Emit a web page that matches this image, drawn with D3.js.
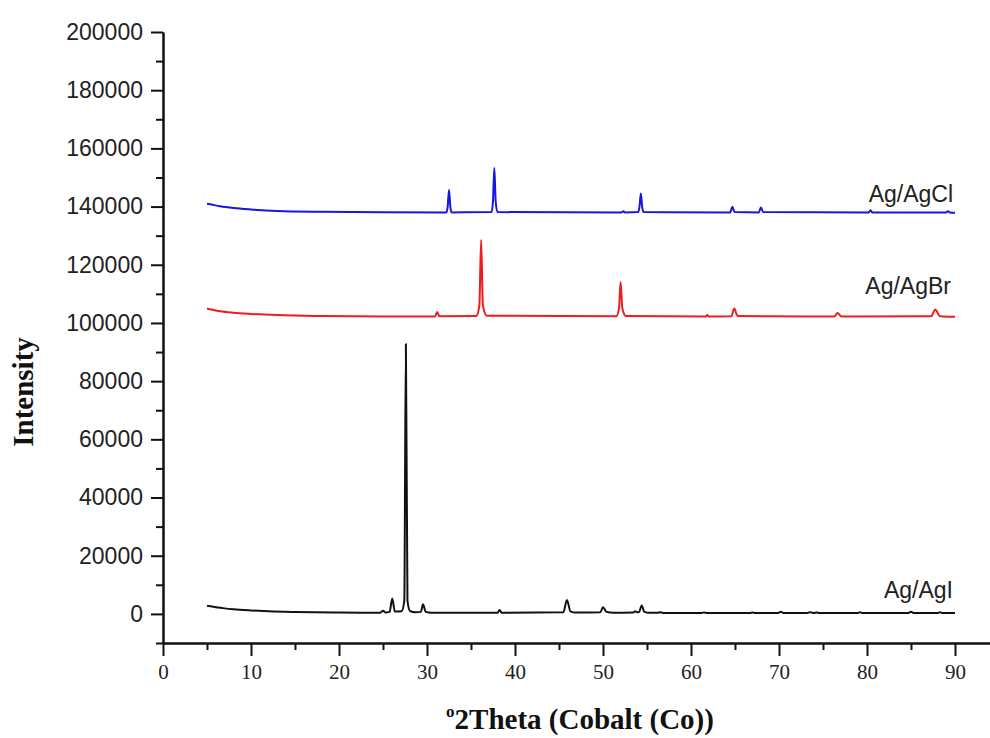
<!DOCTYPE html>
<html>
<head>
<meta charset="utf-8">
<script src="https://cdn.jsdelivr.net/npm/d3@7"></script>
<style>
  body { margin: 0; background: #fff; }
  .ytick text { font-family: "Liberation Sans", Arial, sans-serif; font-size: 23px; fill: #222; }
  .xtick text { font-family: "Liberation Serif", "Times New Roman", serif; font-size: 21px; fill: #222; }
  .axis path, .axis line { stroke: #111; stroke-width: 2; }
  .label { font-family: "Liberation Sans", Arial, sans-serif; font-size: 23px; fill: #222; }
  .title { font-family: "Liberation Serif", "Times New Roman", serif; font-size: 29px; font-weight: bold; fill: #111; }
</style>
</head>
<body>
<svg id="chart" width="990" height="738"></svg>
<script>
// Ag/AgI pattern, [2theta, counts]
var agiData = [
    [5, 2800], [6, 2300], [7, 1900], [8, 1600], [10, 1200], [12, 900], [15, 650],
    [20, 450], [24.7, 420], [25.0, 1100], [25.3, 450], [25.75, 700], [26.05, 5300],
    [26.35, 800], [27.1, 900], [27.42, 4500], [27.6, 92800], [27.78, 4500], [28.1, 900],
    [28.7, 550], [29.3, 700], [29.55, 3300], [29.85, 700], [30.5, 400], [38.0, 380],
    [38.25, 1300], [38.5, 380], [45.5, 550], [45.9, 4800], [46.3, 900], [46.9, 450],
    [49.7, 550], [50.0, 2300], [50.4, 700], [51.2, 420], [53.45, 500], [53.65, 900],
    [53.85, 550], [54.1, 650], [54.4, 2900], [54.7, 700], [55.3, 380], [56.2, 370],
    [56.5, 600], [56.8, 340], [61.2, 330], [61.5, 520], [61.8, 320], [66.7, 320],
    [67.0, 480], [67.3, 320], [69.9, 320], [70.2, 700], [70.5, 320], [73.2, 320],
    [73.5, 550], [73.9, 350], [74.3, 500], [74.6, 320], [78.9, 320], [79.2, 600],
    [79.5, 320], [84.7, 320], [85.0, 700], [85.3, 320], [88.0, 310], [88.3, 600],
    [88.6, 310], [90, 300]
];

// Ag/AgBr pattern
var agbrData = [
    [5, 105000], [5.5, 104600], [6.5, 104000], [8, 103500], [10, 103100], [13, 102700],
    [18, 102400], [25, 102250], [30.9, 102200], [31.15, 103800], [31.4, 102300],
    [35.6, 102400], [35.95, 106000], [36.15, 128500], [36.35, 106000], [36.8, 102500],
    [51.5, 102300], [51.82, 105000], [52.0, 114100], [52.2, 105000], [52.6, 102400],
    [61.7, 102200], [61.85, 102700], [62.0, 102200], [64.6, 102300], [64.9, 105000],
    [65.3, 102400], [76.3, 102200], [76.65, 103400], [77.1, 102200], [87.3, 102300],
    [87.75, 104600], [88.3, 102300], [90, 102100]
];

// Ag/AgCl pattern
var agclData = [
    [5, 141000], [5.5, 140700], [6.5, 140100], [8, 139500], [10, 139000], [13, 138500],
    [18, 138200], [25, 138050], [32.2, 138000], [32.35, 140000], [32.5, 145700],
    [32.65, 140000], [32.8, 138000], [37.35, 138100], [37.5, 142000], [37.65, 153300],
    [37.8, 142000], [38.0, 138100], [52.1, 138000], [52.3, 138400], [52.5, 138000],
    [54.0, 138100], [54.15, 140000], [54.3, 144500], [54.45, 140000], [54.6, 138100],
    [64.45, 138000], [64.7, 139900], [64.95, 138100], [67.7, 138000], [67.95, 139700],
    [68.2, 138100], [80.2, 138000], [80.4, 138700], [80.6, 138000], [89.0, 138000],
    [89.2, 138400], [89.4, 138000], [90, 137900]
];

var seriesNames  = ['Ag/AgI', 'Ag/AgBr', 'Ag/AgCl'];
var seriesColors = ['#111111', '#ee1c1c', '#1515e6'];
var labelPos     = [[953, 598], [951, 294], [953, 202]];

var xMajor = [0, 10, 20, 30, 40, 50, 60, 70, 80, 90];
var xMinor = [5, 15, 25, 35, 45, 55, 65, 75, 85];
var yMajor = [0, 20000, 40000, 60000, 80000, 100000, 120000, 140000, 160000, 180000, 200000];
var yMinor = [-10000, 10000, 30000, 50000, 70000, 90000, 110000, 130000, 150000, 170000, 190000];

var svg = d3.select('#chart');

var x = d3.scaleLinear().domain([0, 95]).range([163, 999]);
var y = d3.scaleLinear().domain([-10000, 200000]).range([643, 32]);

// minor ticks first, then major axes on top
svg.append('g')
    .attr('class', 'axis')
    .attr('transform', 'translate(0,643)')
    .call(d3.axisBottom(x).tickValues(xMinor).tickFormat('').tickSizeInner(7).tickSizeOuter(0));
svg.append('g')
    .attr('class', 'axis xtick')
    .attr('transform', 'translate(0,643)')
    .call(d3.axisBottom(x).tickValues(xMajor).tickFormat(d3.format('d')).tickSizeInner(13).tickSizeOuter(0).tickPadding(8));

svg.append('g')
    .attr('class', 'axis')
    .attr('transform', 'translate(163,0)')
    .call(d3.axisLeft(y).tickValues(yMinor).tickFormat('').tickSizeInner(7).tickSizeOuter(0));
svg.append('g')
    .attr('class', 'axis ytick')
    .attr('transform', 'translate(163,0)')
    .call(d3.axisLeft(y).tickValues(yMajor).tickFormat(d3.format('d')).tickSizeInner(12).tickSizeOuter(0).tickPadding(8));

var line = d3.line()
    .x(function(d) { return x(d[0]); })
    .y(function(d) { return y(d[1]); })
    .curve(d3.curveMonotoneX);

[agiData, agbrData, agclData].forEach(function(data, i) {
    svg.append('path')
        .datum(data)
        .attr('fill', 'none')
        .attr('stroke', seriesColors[i])
        .attr('stroke-width', 2)
        .attr('stroke-linejoin', 'round')
        .attr('d', line);
    svg.append('text')
        .attr('class', 'label')
        .attr('x', labelPos[i][0])
        .attr('y', labelPos[i][1])
        .attr('text-anchor', 'end')
        .text(seriesNames[i]);
});

// axis titles
var xt = svg.append('text')
    .attr('class', 'title')
    .attr('x', 580)
    .attr('y', 729)
    .attr('text-anchor', 'middle');
xt.append('tspan').attr('font-size', 17).attr('dy', -12).text('o');
xt.append('tspan').attr('dy', 12).text('2Theta (Cobalt (Co))');

svg.append('text')
    .attr('class', 'title')
    .attr('transform', 'translate(33,392) rotate(-90)')
    .attr('text-anchor', 'middle')
    .text('Intensity');
</script>
</body>
</html>
